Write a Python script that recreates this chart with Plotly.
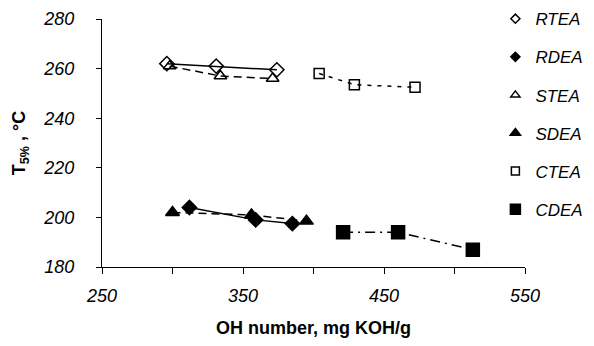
import plotly.graph_objects as go

series_names = ["RTEA", "RDEA", "STEA", "SDEA", "CTEA", "CDEA"]
rtea_x = [296, 331, 374]
rtea_y = [262, 261, 259.5]
rdea_x = [312, 359, 385]
rdea_y = [204, 199, 197.5]
stea_x = [298, 334, 371]
stea_y = [261, 257, 256]
sdea_x = [300, 356, 395]
sdea_y = [202, 201, 198.5]
ctea_x = [404, 429, 472]
ctea_y = [258, 253.5, 252.5]
cdea_x = [421, 460, 513]
cdea_y = [194, 194, 187]

x_ticks = [250, 300, 350, 400, 450, 500, 550]
x_ticktext = ["250", "", "350", "", "450", "", "550"]
y_ticks = [180, 200, 220, 240, 260, 280]

styles = {
    "RTEA": dict(symbol="diamond-open", size=11, lsize=7, dash="solid"),
    "RDEA": dict(symbol="diamond", size=11, lsize=7, dash="solid"),
    "STEA": dict(symbol="triangle-up-open", size=11, lsize=8, dash="8px,5px"),
    "SDEA": dict(symbol="triangle-up", size=12, lsize=9, dash="8px,5px"),
    "CTEA": dict(symbol="square-open", size=10, lsize=8, dash="4px,6px"),
    "CDEA": dict(symbol="square", size=13, lsize=10, dash="10px,5px,2px,5px"),
}
data = {
    "RTEA": (rtea_x, rtea_y), "RDEA": (rdea_x, rdea_y),
    "STEA": (stea_x, stea_y), "SDEA": (sdea_x, sdea_y),
    "CTEA": (ctea_x, ctea_y), "CDEA": (cdea_x, cdea_y),
}

fig = go.Figure()
for name in series_names:
    xs, ys = data[name]
    st = styles[name]
    fig.add_trace(go.Scatter(
        x=xs, y=ys, mode="lines+markers", name=name, showlegend=False,
        line=dict(color="black", width=1.5, dash=st["dash"]),
        marker=dict(symbol=st["symbol"], size=st["size"], color="black",
                    line=dict(color="black", width=1.5)),
        cliponaxis=False,
    ))
for name in series_names:
    st = styles[name]
    fig.add_trace(go.Scatter(
        x=[None], y=[None], mode="markers", name=name, legendgroup=name,
        marker=dict(symbol=st["symbol"], size=st["lsize"], color="black",
                    line=dict(color="black", width=1.5)),
    ))

font_family = "Liberation Sans, Arial, sans-serif"
fig.update_layout(
    width=594, height=346,
    margin=dict(l=102, r=69, t=19, b=79, autoexpand=False),
    paper_bgcolor="white", plot_bgcolor="white",
    font=dict(family=font_family, color="black", size=17),
    showlegend=True,
    legend=dict(x=0.93, xanchor="left", y=1.072, yanchor="top",
                font=dict(size=17, family=font_family, style="italic"),
                tracegroupgap=13, itemwidth=30, bgcolor="rgba(0,0,0,0)",
                maxheight=400),
    xaxis=dict(range=[250, 550], tickvals=x_ticks, ticktext=x_ticktext,
               showgrid=False, zeroline=False, showline=True, linecolor="black",
               linewidth=1.3, ticks="outside", ticklen=6, tickwidth=1.3,
               tickcolor="black", ticklabelstandoff=6,
               tickfont=dict(size=18, style="italic"),
               title=dict(text="<b>OH number, mg KOH/g</b>", font=dict(size=18),
                          standoff=16)),
    yaxis=dict(range=[180, 280], tickvals=y_ticks,
               showgrid=False, zeroline=False, showline=True, linecolor="black",
               linewidth=1.3, ticks="outside", ticklen=5, tickwidth=1.3,
               tickcolor="black", ticklabelstandoff=18,
               tickfont=dict(size=18, style="italic"),
               title=dict(text="<b>T<sub>5%</sub> , °C</b>", font=dict(size=18),
                          standoff=12)),
)

fig.write_html("out.html")
